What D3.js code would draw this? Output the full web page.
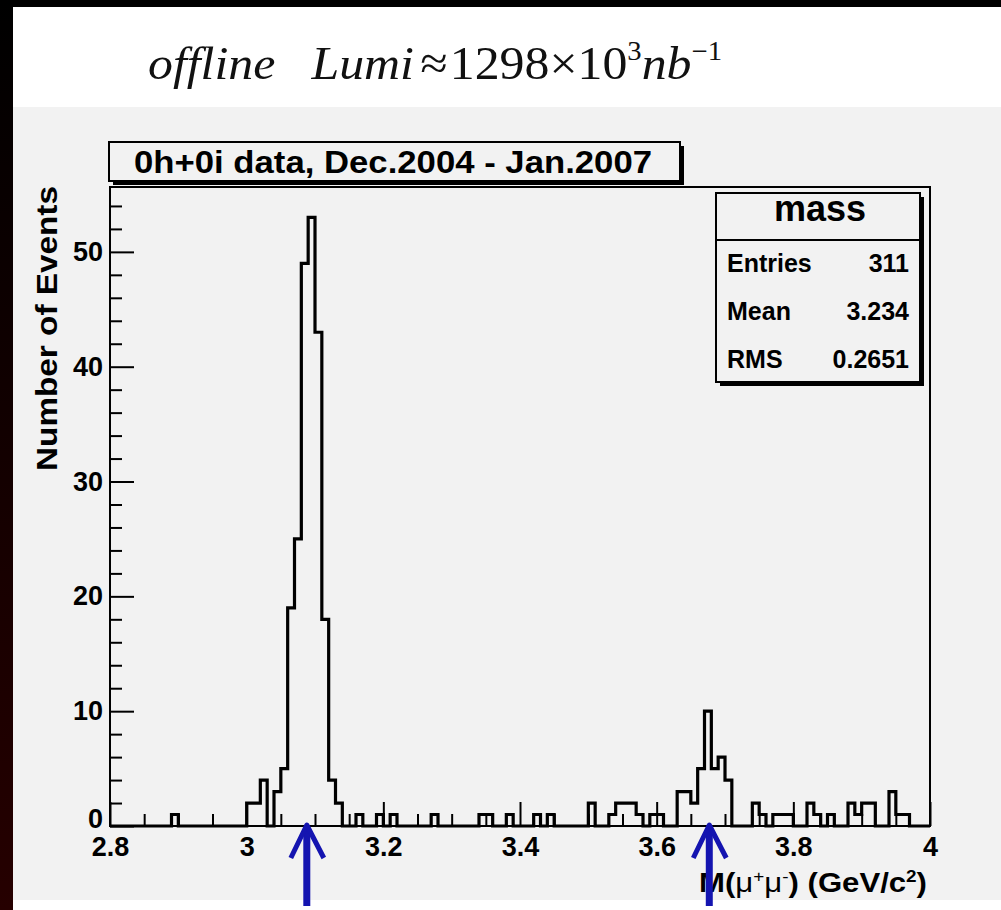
<!DOCTYPE html>
<html>
<head>
<meta charset="utf-8">
<script src="https://cdn.jsdelivr.net/npm/d3@7"></script>
<style>
  body { margin: 0; background: #ffffff; }
  svg { display: block; }
</style>
</head>
<body>
<script>
// histogram of the dimuon mass, 120 bins of 0.01 from 2.8 to 4.0
var binStart = 2.8;
var binWidth = 0.01;
var counts = [
  0,0,0,0,0,0,0,0,0,1,
  0,0,0,0,0,0,0,0,0,0,
  2,2,4,0,3,5,19,25,49,53,
  43,18,4,2,0,0,1,0,0,1,
  0,1,0,0,0,0,0,1,0,0,
  0,0,0,0,1,1,0,0,1,0,
  0,0,1,0,1,0,0,0,0,0,
  2,0,0,1,2,2,2,1,0,1,
  1,0,0,3,3,2,5,10,5,6,
  4,0,0,0,2,1,0,1,1,1,
  0,0,2,1,0,1,0,0,2,1,
  2,2,0,0,3,1,1,0,0,0
];

// axis ticks
var xMajor = [2.8, 3.0, 3.2, 3.4, 3.6, 3.8, 4.0];
var xLabels = ["2.8", "3", "3.2", "3.4", "3.6", "3.8", "4"];
var yMajor = [0, 10, 20, 30, 40, 50];

// stats box
var statTitle = "mass";
var statLabels = ["Entries", "Mean", "RMS"];
var statValues = ["311", "3.234", "0.2651"];

// arrows marking J/psi and psi(2S)
var arrowX = [3.088, 3.677];

// texts
var histTitle = "0h+0i data, Dec.2004 - Jan.2007";
var yTitle = "Number of Events";

// SVG size
var w_svg = 1001;
var h_svg = 910;

var svg = d3.select("body").append("svg")
  .attr("width", w_svg)
  .attr("height", h_svg);

var defs = svg.append("defs");
var grad = defs.append("linearGradient").attr("id", "edge")
  .attr("x1", 0).attr("y1", 0).attr("x2", 0).attr("y2", 1);
grad.append("stop").attr("offset", "0%").attr("stop-color", "#000000");
grad.append("stop").attr("offset", "100%").attr("stop-color", "#260000");

// page background: white header, gray pad, dark borders
svg.append("rect").attr("x", 0).attr("y", 0).attr("width", w_svg).attr("height", h_svg).attr("fill", "#ffffff");
svg.append("rect").attr("x", 13).attr("y", 107).attr("width", w_svg - 13).attr("height", 793).attr("fill", "#f2f2f2");
svg.append("rect").attr("x", 0).attr("y", 0).attr("width", w_svg).attr("height", 7).attr("fill", "#000000");
svg.append("rect").attr("x", 0).attr("y", 0).attr("width", 13).attr("height", h_svg).attr("fill", "url(#edge)");

// luminosity line on top
var lumi = svg.append("text")
  .attr("x", 148).attr("y", 79)
  .attr("font-family", "'Liberation Serif', 'Times New Roman', serif")
  .attr("font-size", 47)
  .attr("fill", "#111")
  .attr("textLength", 574)
  .attr("lengthAdjust", "spacingAndGlyphs");
lumi.append("tspan").attr("font-style", "italic").text("offline");
lumi.append("tspan").attr("dx", 34).attr("font-style", "italic").text("Lumi");
lumi.append("tspan").attr("dx", 6).text("\u2248");
lumi.append("tspan").attr("dx", 2).text("1298\u00d710");
lumi.append("tspan").attr("dy", -19).attr("font-size", 27).text("3");
lumi.append("tspan").attr("dy", 19).attr("font-style", "italic").text("nb");
lumi.append("tspan").attr("dy", -19).attr("font-size", 27).text("\u22121");

// scales
var frame = {left: 110, right: 930, top: 187, bottom: 826};
var yMax = d3.max(counts) * 1.05;
var xScale = d3.scaleLinear().domain([binStart, binStart + counts.length * binWidth]).range([frame.left, frame.right]);
var yScale = d3.scaleLinear().domain([0, yMax]).range([frame.bottom, frame.top]);

// frame
svg.append("rect")
  .attr("x", frame.left).attr("y", frame.top)
  .attr("width", frame.right - frame.left).attr("height", frame.bottom - frame.top)
  .attr("fill", "none").attr("stroke", "#000").attr("stroke-width", 2);

// axes, ticks point into the frame
var fontAxis = "'Liberation Sans', Arial, sans-serif";

var yMinorTicks = d3.range(0, 56, 2).filter(function(d) { return d % 10 != 0; });
svg.append("g").attr("transform", "translate(" + frame.left + ",0)")
  .call(d3.axisLeft(yScale).tickValues(yMinorTicks).tickSize(-12).tickFormat(""));
var yAx = svg.append("g").attr("transform", "translate(" + frame.left + ",0)")
  .call(d3.axisLeft(yScale).tickValues(yMajor).tickSize(-24).tickPadding(7));

var xMinorTicks = d3.range(0, 25).map(function(i) { return 2.8 + i * 0.05; })
  .filter(function(d, i) { return i % 4 != 0; });
svg.append("g").attr("transform", "translate(0," + frame.bottom + ")")
  .call(d3.axisBottom(xScale).tickValues(xMinorTicks).tickSize(-12).tickFormat(""));
var xAx = svg.append("g").attr("transform", "translate(0," + frame.bottom + ")")
  .call(d3.axisBottom(xScale).tickValues(xMajor).tickSize(-24).tickPadding(11)
    .tickFormat(function(d, i) { return xLabels[i]; }));

svg.selectAll(".domain").remove();
svg.selectAll(".tick line").attr("stroke", "#000").attr("stroke-width", 2);
svg.selectAll(".tick text")
  .attr("font-family", fontAxis).attr("font-weight", "bold")
  .attr("font-size", 27).attr("fill", "#000");
yAx.selectAll(".tick text").attr("dy", "0.32em");
// the zero label sits a little higher, just above the x labels
yAx.selectAll(".tick text").filter(function(d) { return d == 0; }).attr("dy", "0.05em");

// histogram outline (step line)
var pts = [[binStart, 0]];
counts.forEach(function(c, i) {
  pts.push([binStart + i * binWidth, c]);
  pts.push([binStart + (i + 1) * binWidth, c]);
});
pts.push([binStart + counts.length * binWidth, 0]);
var line = d3.line()
  .x(function(d) { return xScale(d[0]); })
  .y(function(d) { return yScale(d[1]); });
svg.append("path")
  .attr("d", line(pts))
  .attr("fill", "none")
  .attr("stroke", "#000")
  .attr("stroke-width", 3.2)
  .attr("stroke-linejoin", "miter");

// title box
svg.append("rect").attr("x", 113).attr("y", 146).attr("width", 571).attr("height", 39).attr("fill", "#000");
svg.append("rect").attr("x", 109).attr("y", 142).attr("width", 571).attr("height", 39)
  .attr("fill", "#f2f2f2").attr("stroke", "#000").attr("stroke-width", 2);
svg.append("text")
  .attr("x", 393).attr("y", 173)
  .attr("text-anchor", "middle")
  .attr("font-family", fontAxis).attr("font-weight", "bold").attr("font-size", 31)
  .attr("textLength", 518).attr("lengthAdjust", "spacingAndGlyphs")
  .text(histTitle);

// stats box
svg.append("rect").attr("x", 720).attr("y", 197).attr("width", 204).attr("height", 189).attr("fill", "#000");
svg.append("rect").attr("x", 716).attr("y", 193).attr("width", 204).attr("height", 189)
  .attr("fill", "#f2f2f2").attr("stroke", "#000").attr("stroke-width", 2);
svg.append("line").attr("x1", 716).attr("x2", 920).attr("y1", 240).attr("y2", 240)
  .attr("stroke", "#000").attr("stroke-width", 2);
svg.append("text")
  .attr("x", 820).attr("y", 221).attr("text-anchor", "middle")
  .attr("font-family", fontAxis).attr("font-weight", "bold").attr("font-size", 36)
  .text(statTitle);
svg.selectAll("text.slab").data(statLabels).enter().append("text")
  .attr("class", "slab")
  .attr("x", 727).attr("y", function(d, i) { return 272 + i * 48; })
  .attr("font-family", fontAxis).attr("font-weight", "bold").attr("font-size", 25)
  .text(function(d) { return d; });
svg.selectAll("text.sval").data(statValues).enter().append("text")
  .attr("class", "sval")
  .attr("x", 909).attr("y", function(d, i) { return 272 + i * 48; })
  .attr("text-anchor", "end")
  .attr("font-family", fontAxis).attr("font-weight", "bold").attr("font-size", 25)
  .text(function(d) { return d; });

// y axis title
svg.append("text")
  .attr("transform", "translate(57," + (frame.top - 1) + ") rotate(-90)")
  .attr("text-anchor", "end")
  .attr("font-family", fontAxis).attr("font-weight", "bold").attr("font-size", 29)
  .attr("textLength", 285).attr("lengthAdjust", "spacingAndGlyphs")
  .text(yTitle);

// x axis title
var xt = svg.append("text")
  .attr("x", frame.right - 3).attr("y", 892)
  .attr("text-anchor", "end")
  .attr("font-family", fontAxis).attr("font-weight", "bold").attr("font-size", 28)
  .attr("textLength", 228).attr("lengthAdjust", "spacingAndGlyphs");
xt.append("tspan").text("M(");
xt.append("tspan").attr("font-weight", "normal").text("\u03bc");
xt.append("tspan").attr("dy", -10).attr("font-size", 17).attr("font-weight", "normal").text("+");
xt.append("tspan").attr("dy", 10).attr("font-weight", "normal").text("\u03bc");
xt.append("tspan").attr("dy", -10).attr("font-size", 17).attr("font-weight", "normal").text("-");
xt.append("tspan").attr("dy", 10).text(") (GeV/c");
xt.append("tspan").attr("dy", -10).attr("font-size", 17).text("2");
xt.append("tspan").attr("dy", 10).text(")");

// arrows
var arrowColor = "#1414b0";
var arrows = svg.selectAll("g.arrow").data(arrowX).enter().append("g").attr("class", "arrow");
arrows.append("line")
  .attr("x1", function(d) { return xScale(d); }).attr("x2", function(d) { return xScale(d); })
  .attr("y1", frame.bottom + 4).attr("y2", 906)
  .attr("stroke", arrowColor).attr("stroke-width", 7);
arrows.append("polyline")
  .attr("points", function(d) {
    var x = xScale(d);
    return (x - 16) + ",858 " + x + "," + (frame.bottom - 1) + " " + (x + 17) + ",858";
  })
  .attr("fill", "none").attr("stroke", arrowColor).attr("stroke-width", 5)
  .attr("stroke-linejoin", "round");
</script>
</body>
</html>
